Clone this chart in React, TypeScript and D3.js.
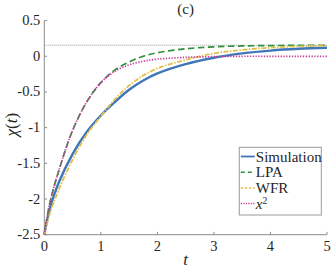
import React from "react";
import * as d3 from "d3";

const tValues = [0, 0.1, 0.25, 0.5, 0.75, 1, 1.25, 1.5, 1.75, 2, 2.5, 3, 3.5, 4, 4.5, 5];
const simulation = [-2.5, -2.13, -1.78, -1.37, -1.06, -0.83, -0.64, -0.47, -0.34, -0.24, -0.11, -0.02, 0.04, 0.08, 0.105, 0.12];
const lpa = [-2.5, -2.05, -1.62, -1.04, -0.64, -0.37, -0.19, -0.08, 0.0, 0.05, 0.105, 0.133, 0.145, 0.15, 0.153, 0.155];
const wfr = [-2.5, -2.2, -1.88, -1.45, -1.1, -0.84, -0.6, -0.41, -0.27, -0.17, -0.05, 0.04, 0.09, 0.12, 0.14, 0.15];
const x2 = [-2.5, -2.05, -1.62, -1.04, -0.64, -0.37, -0.21, -0.12, -0.07, -0.04, -0.015, -0.005, 0, 0, 0, 0];
const referenceLevel = 0.155;

const xTicks = [0, 1, 2, 3, 4, 5];
const yTicks = [0.5, 0, -0.5, -1, -1.5, -2, -2.5];
const yTickLabels = ["0.5", "0", "-0.5", "-1", "-1.5", "-2", "-2.5"];
const legendNames = ["Simulation", "LPA", "WFR", "x2"];

const W = 332;
const H = 269;
const left = 44.3;
const right = 327;
const top = 20.6;
const bottom = 234.7;
const FONT = "Liberation Serif";
const INK = "#262626";

const series = [
  { name: "Simulation", values: simulation, color: "#3f76b8", width: 2.4, dash: "" },
  { name: "LPA", values: lpa, color: "#2f8f3c", width: 1.7, dash: "6.5,3.5" },
  { name: "WFR", values: wfr, color: "#e0c04c", width: 1.8, dash: "5,1.5,1.5,1.5" },
  { name: "x2", values: x2, color: "#c83c9a", width: 1.7, dash: "1.3,1.5" },
];

export default function App() {
  const x = d3.scaleLinear().domain([0, 5]).range([left, right]);
  const y = d3.scaleLinear().domain([-2.5, 0.5]).range([bottom, top]);
  const line = (vals: number[]) =>
    d3
      .line<number>()
      .x((_, i) => x(tValues[i]))
      .y((v) => y(v))
      .curve(d3.curveCatmullRom.alpha(0.5))(vals) || "";

  const axisColor = "#8c8c8c";
  const legX = 239.3;
  const legY = 147.3;
  const legW = 82;
  const legH = 67.7;
  const rowY = [156.5, 172.2, 187.9, 203.6];

  return (
    <svg width={W} height={H} style={{ position: "absolute", left: 0, top: 0 }}>
      <rect x={0} y={0} width={W} height={H} fill="#fff" />
      <line x1={left} x2={left} y1={top} y2={bottom} stroke={axisColor} strokeWidth={1} />
      <line x1={left} x2={right} y1={bottom} y2={bottom} stroke={axisColor} strokeWidth={1} />
      {yTicks.map((v, i) => (
        <g key={"yt" + i}>
          <line x1={left} x2={left + 2.8} y1={y(v)} y2={y(v)} stroke={axisColor} />
          <text x={left - 4} y={y(v) + 4.5} textAnchor="end" fontSize={14.5} fontFamily={FONT} fill={INK}>
            {yTickLabels[i]}
          </text>
        </g>
      ))}
      {xTicks.map((v, i) => (
        <g key={"xt" + i}>
          <line x1={x(v)} x2={x(v)} y1={bottom} y2={bottom - 2.8} stroke={axisColor} />
          <text x={x(v)} y={251} textAnchor="middle" fontSize={14.5} fontFamily={FONT} fill={INK}>
            {String(v)}
          </text>
        </g>
      ))}
      <line
        x1={left}
        x2={right}
        y1={y(referenceLevel)}
        y2={y(referenceLevel)}
        stroke="#9a9a9a"
        strokeWidth={1}
        strokeDasharray="1,1"
      />
      {series.map((s) => (
        <path
          key={s.name}
          d={line(s.values)}
          fill="none"
          stroke={s.color}
          strokeWidth={s.width}
          strokeDasharray={s.dash || undefined}
        />
      ))}
      <text x={(left + right) / 2} y={13.5} textAnchor="middle" fontSize={15} fontFamily={FONT} fill={INK}>
        (c)
      </text>
      <text x={(left + right) / 2} y={265} textAnchor="middle" fontSize={17} fontStyle="italic" fontFamily={FONT} fill={INK}>
        t
      </text>
      <text
        transform={`translate(17,${(top + bottom) / 2 - 3}) rotate(-90)`}
        textAnchor="middle"
        fontSize={17}
        fontFamily={FONT}
        fill={INK}
      >
        <tspan fontStyle="italic">χ</tspan>(<tspan fontStyle="italic">t</tspan>)
      </text>
      <rect x={legX} y={legY} width={legW} height={legH} fill="#fff" stroke="#9a9a9a" strokeWidth={1} />
      {series.map((s, i) => (
        <g key={"leg" + i}>
          <line
            x1={legX + 1.5}
            x2={legX + 15.5}
            y1={rowY[i]}
            y2={rowY[i]}
            stroke={s.color}
            strokeWidth={s.name === "Simulation" ? 1.8 : 1.5}
            strokeDasharray={s.dash ? (s.name === "LPA" ? "4,3" : s.name === "WFR" ? "2.5,1.5" : "1.2,1.3") : undefined}
          />
          <text x={legX + 16.5} y={rowY[i] + 5} fontSize={15} fontFamily={FONT} fill={INK}>
            {legendNames[i] === "x2" ? (
              <>
                <tspan fontStyle="italic">x</tspan>
                <tspan fontSize={9.5} dy={-5}>2</tspan>
              </>
            ) : (
              legendNames[i]
            )}
          </text>
        </g>
      ))}
    </svg>
  );
}
